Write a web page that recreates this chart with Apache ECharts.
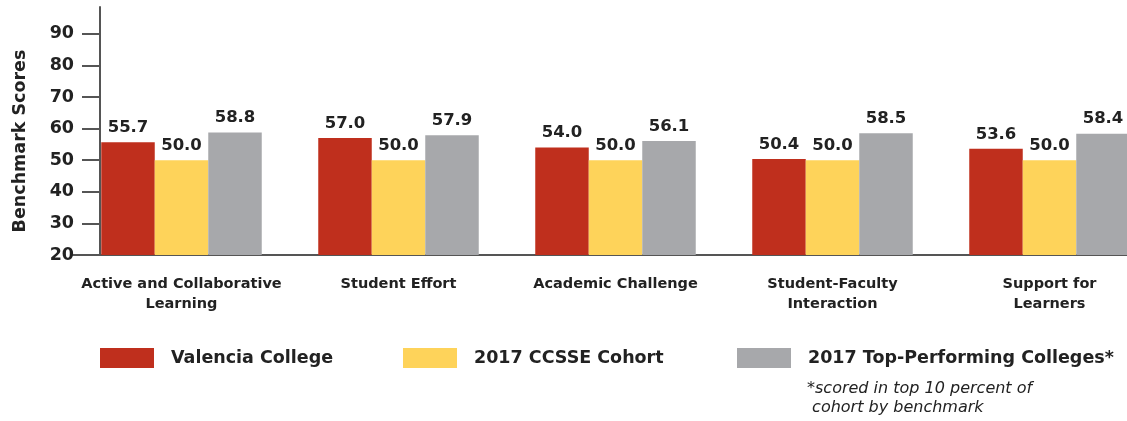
<!DOCTYPE html>
<html>
<head>
<meta charset="utf-8">
<script src="https://cdn.jsdelivr.net/npm/echarts@6/dist/echarts.min.js"></script>
<style>
  html, body { margin: 0; padding: 0; background: #fff; }
  #chart { width: 1127px; height: 421px; }
</style>
</head>
<body>
<div id="chart"></div>
<script>
// benchmark categories
const categories = [
  'Active and Collaborative\nLearning',
  'Student Effort',
  'Academic Challenge',
  'Student-Faculty\nInteraction',
  'Support for\nLearners'
];
const valencia = [55.7, 57.0, 54.0, 50.4, 53.6];
const cohort = [50.0, 50.0, 50.0, 50.0, 50.0];
const topColleges = [58.8, 57.9, 56.1, 58.5, 58.4];
const seriesNames = ['Valencia College', '2017 CCSSE Cohort', '2017 Top-Performing Colleges*'];
const colors = ['#BF2F1D', '#FED35A', '#A7A8AB'];

const FONT = '"DejaVu Sans", sans-serif';

let myChart = echarts.init(document.getElementById('chart'));

function barSeries(name, data, color) {
  return {
    name: name,
    type: 'bar',
    data: data,
    barWidth: 53.5,
    barGap: '0%',
    itemStyle: { color: color },
    label: {
      show: true,
      position: 'top',
      distance: 6,
      formatter: p => p.value.toFixed(1),
      fontFamily: FONT,
      fontWeight: 'bold',
      fontSize: 16.5,
      color: '#222'
    }
  };
}

// one legend per item so each sits where the original puts it
let legends = seriesNames.map((n, i) => ({
  data: [n],
  left: [100, 403, 737][i],
  top: 348,
  padding: 0,
  itemWidth: 54,
  itemHeight: 20,
  itemGap: 0,
  icon: 'rect',
  textStyle: {
    fontFamily: FONT,
    fontWeight: 'bold',
    fontSize: 17.5,
    color: '#222',
    padding: [5, 0, 0, 12]
  }
}));

let option = {
  animation: false,
  backgroundColor: '#fff',
  // last group runs off the right edge like the original
  grid: { left: 73, top: 7, right: -31, height: 248, containLabel: false, outerBoundsMode: 'none' },
  legend: legends,
  xAxis: {
    type: 'category',
    data: categories,
    axisTick: { show: false },
    axisLine: { lineStyle: { color: '#555', width: 2 } },
    axisLabel: {
      interval: 0,
      margin: 19,
      fontFamily: FONT,
      fontWeight: 'bold',
      fontSize: 14.5,
      color: '#222',
      lineHeight: 20
    }
  },
  yAxis: {
    type: 'value',
    min: 20,
    max: 98.5,
    interval: 10,
    offset: -27,
    splitLine: { show: false },
    axisLine: { show: true, lineStyle: { color: '#555', width: 2 } },
    axisTick: { show: true, inside: false, length: 18, lineStyle: { color: '#555', width: 2 } },
    axisLabel: {
      margin: 26,
      showMaxLabel: false,
      fontFamily: FONT,
      fontWeight: 'bold',
      fontSize: 17.5,
      color: '#222',
      formatter: v => (v % 10 === 0 ? String(v) : '')
    }
  },
  graphic: [{
    type: 'text',
    x: 20,
    y: 141,
    rotation: Math.PI / 2,
    style: {
      text: 'Benchmark Scores',
      font: 'bold 17.5px ' + FONT,
      fill: '#222',
      align: 'center',
      verticalAlign: 'middle'
    }
  }, {
    type: 'text',
    left: 807,
    top: 379,
    style: {
      text: '*scored in top 10 percent of\n cohort by benchmark',
      font: 'italic 16px ' + FONT,
      fill: '#222',
      lineHeight: 19
    }
  }],
  series: [
    barSeries(seriesNames[0], valencia, colors[0]),
    barSeries(seriesNames[1], cohort, colors[1]),
    barSeries(seriesNames[2], topColleges, colors[2])
  ]
};
myChart.setOption(option);
</script>
</body>
</html>
